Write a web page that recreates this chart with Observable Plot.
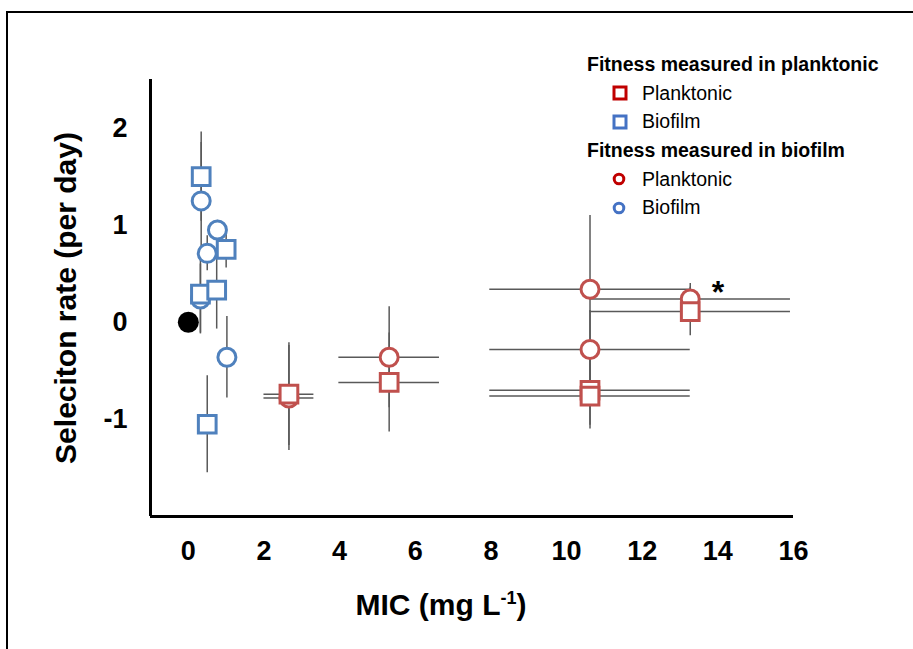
<!DOCTYPE html>
<html>
<head>
<meta charset="utf-8">
<script src="https://cdn.jsdelivr.net/npm/d3@7"></script>
<script src="https://cdn.jsdelivr.net/npm/@observablehq/plot@0.6"></script>
<style>
  body { margin: 0; background: #fff; }
  #wrap { position: relative; width: 913px; height: 649px; overflow: hidden; font-family: "Liberation Sans", Arial, sans-serif; background: #fff; }
  #border { position: absolute; left: 6px; top: 11px; width: 960px; height: 700px; border-top: 2px solid #000; border-left: 2px solid #000; box-sizing: border-box; }
  #chart { position: absolute; left: 0; top: 0; }
  #legend { position: absolute; left: 587px; top: 50px; color: #000; }
  #legend .row { display: flex; align-items: center; height: 28.7px; white-space: nowrap; }
  #legend .head { font-weight: bold; font-size: 19.5px; }
  #legend .item { font-size: 19.5px; }
  #legend .item svg { margin-left: 25px; margin-right: 14px; }
</style>
</head>
<body>
<div id="wrap">
  <div id="border"></div>
  <div id="chart"></div>
  <div id="legend"></div>
</div>
<script>
// ---- Data ----
// Fitness measured in planktonic (squares)
const planktonicSquareMIC     = [2.66, 5.31, 10.62, 10.62, 13.27];
const planktonicSquareRate    = [-0.74, -0.62, -0.70, -0.76, 0.11];
const planktonicSquareMICErr  = [0.66, 1.33, 2.65, 2.65, 2.65];
const planktonicSquareRateErr = [0.53, 0.51, 0.36, 0.34, 0.25];

const biofilmSquareMIC     = [0.34, 0.32, 0.75, 1.00, 0.50];
const biofilmSquareRate    = [1.50, 0.29, 0.33, 0.75, -1.05];
const biofilmSquareMICErr  = [0, 0, 0, 0, 0];
const biofilmSquareRateErr = [0.46, 0.40, 0.40, 0.19, 0.50];

// Fitness measured in biofilm (circles)
const planktonicCircleMIC     = [2.66, 5.31, 10.62, 10.62, 13.27];
const planktonicCircleRate    = [-0.78, -0.36, 0.34, -0.28, 0.24];
const planktonicCircleMICErr  = [0.66, 1.33, 2.65, 2.65, 2.65];
const planktonicCircleRateErr = [0.54, 0.52, 0.76, 0.40, 0.16];

const biofilmCircleMIC     = [0.34, 0.77, 0.50, 0.32, 1.02];
const biofilmCircleRate    = [1.25, 0.95, 0.71, 0.24, -0.36];
const biofilmCircleMICErr  = [0, 0, 0, 0, 0];
const biofilmCircleRateErr = [0.60, 0.10, 0.18, 0.36, 0.42];

// Ancestor
const ancestorMIC  = [0.0];
const ancestorRate = [0];

// Significance annotation
const starMIC   = [14.0];
const starRate  = [0.3];
const starLabel = ["*"];

// Axis ticks
const xTicks = [0, 2, 4, 6, 8, 10, 12, 14, 16];
const xTickLabels = ["0", "2", "4", "6", "8", "10", "12", "14", "16"];
const yTicks = [-1, 0, 1, 2];
const yTickLabels = ["-1", "0", "1", "2"];

const xTitle = "MIC (mg L-1)";
const yTitle = "Seleciton rate (per day)";

// Legend
const legendGroups = ["Fitness measured in planktonic", "Fitness measured in biofilm"];
const legendItems  = ["Planktonic", "Biofilm"];

// ---- Build tables ----
function rows(mic, rate, ex, ey) {
  return mic.map((m, i) => ({ mic: m, rate: rate[i], ex: ex[i], ey: ey[i] }));
}
const redSq  = rows(planktonicSquareMIC, planktonicSquareRate, planktonicSquareMICErr, planktonicSquareRateErr);
const blueSq = rows(biofilmSquareMIC, biofilmSquareRate, biofilmSquareMICErr, biofilmSquareRateErr);
const redCi  = rows(planktonicCircleMIC, planktonicCircleRate, planktonicCircleMICErr, planktonicCircleRateErr);
const blueCi = rows(biofilmCircleMIC, biofilmCircleRate, biofilmCircleMICErr, biofilmCircleRateErr);
const all = [...redCi, ...redSq, ...blueCi, ...blueSq];
const ancestor = ancestorMIC.map((m, i) => ({ mic: m, rate: ancestorRate[i] }));
const stars = starMIC.map((m, i) => ({ mic: m, rate: starRate[i], label: starLabel[i] }));

const RED = "#C0504D", BLUE = "#4F81BD", ERR = "#595959";

const plot = Plot.plot({
  width: 913,
  height: 649,
  marginLeft: 150,
  marginRight: 120,
  marginTop: 79,
  marginBottom: 133,
  style: { fontFamily: "'Liberation Sans', Arial, sans-serif", color: "#000", background: "transparent" },
  x: { domain: [-1, 16] },
  y: { domain: [-2, 2.5] },
  marks: [
    Plot.ruleY(all.filter(d => d.ex > 0), { y: "rate", x1: d => d.mic - d.ex, x2: d => d.mic + d.ex, stroke: ERR, strokeWidth: 1.5 }),
    Plot.ruleX(all, { x: "mic", y1: d => d.rate - d.ey, y2: d => d.rate + d.ey, stroke: ERR, strokeWidth: 1.5 }),
    Plot.dot(redCi,  { x: "mic", y: "rate", symbol: "circle", r: 9, fill: "white", stroke: RED, strokeWidth: 3 }),
    Plot.dot(blueCi, { x: "mic", y: "rate", symbol: "circle", r: 9, fill: "white", stroke: BLUE, strokeWidth: 3 }),
    Plot.dot(redSq,  { x: "mic", y: "rate", symbol: "square", r: 10, fill: "white", stroke: RED, strokeWidth: 3 }),
    Plot.dot(blueSq, { x: "mic", y: "rate", symbol: "square", r: 10, fill: "white", stroke: BLUE, strokeWidth: 3 }),
    Plot.dot(ancestor, { x: "mic", y: "rate", symbol: "circle", r: 10.5, fill: "black", stroke: "none" }),
    Plot.text(stars, { x: "mic", y: "rate", text: "label", fontSize: 32, fontWeight: "bold", fill: "black" }),
    Plot.ruleX([-1], { stroke: "black", strokeWidth: 3 }),
    Plot.ruleY([-2], { stroke: "black", strokeWidth: 3 }),
    Plot.axisX({ ticks: xTicks, tickFormat: d => xTickLabels[xTicks.indexOf(d)], tickSize: 0, tickPadding: 24, fontSize: 27, fontWeight: "bold", label: null }),
    Plot.axisY({ ticks: yTicks, tickFormat: d => yTickLabels[yTicks.indexOf(d)], tickSize: 0, tickPadding: 23, fontSize: 27, fontWeight: "bold", label: null }),
    Plot.text([yTitle], { frameAnchor: "left", rotate: -90, dx: -84, dy: 0, textAnchor: "middle", lineAnchor: "middle", fontSize: 30, fontWeight: "bold" }),
    Plot.text([xTitle], { frameAnchor: "bottom", dx: -31, dy: 89, textAnchor: "middle", lineAnchor: "middle", fontSize: 30, fontWeight: "bold" })
  ]
});
document.getElementById("chart").appendChild(plot);

// superscript for the x-axis title unit
d3.select(plot).selectAll("text").each(function () {
  if (this.textContent === xTitle) {
    const t = d3.select(this);
    t.text(null);
    t.append("tspan").text("MIC (mg L");
    t.append("tspan").attr("font-size", 18).attr("dy", -11).text("-1");
    t.append("tspan").attr("dy", 11).text(")");
  }
});

// ---- Legend ----
const legend = d3.select("#legend");
const markerColors = ["#C00000", "#4472C4"];
legendGroups.forEach((g, gi) => {
  legend.append("div").attr("class", "row head").text(g);
  legendItems.forEach((it, ii) => {
    const row = legend.append("div").attr("class", "row item");
    const svg = row.append("svg").attr("width", 16).attr("height", 16);
    if (gi === 0) {
      svg.append("rect").attr("x", 2).attr("y", 2).attr("width", 12).attr("height", 12)
        .attr("fill", "white").attr("stroke", markerColors[ii]).attr("stroke-width", 3);
    } else {
      svg.append("circle").attr("cx", 7).attr("cy", 8).attr("r", 4.8)
        .attr("fill", "white").attr("stroke", markerColors[ii]).attr("stroke-width", 3);
    }
    row.append("span").text(it);
  });
});
</script>
</body>
</html>
